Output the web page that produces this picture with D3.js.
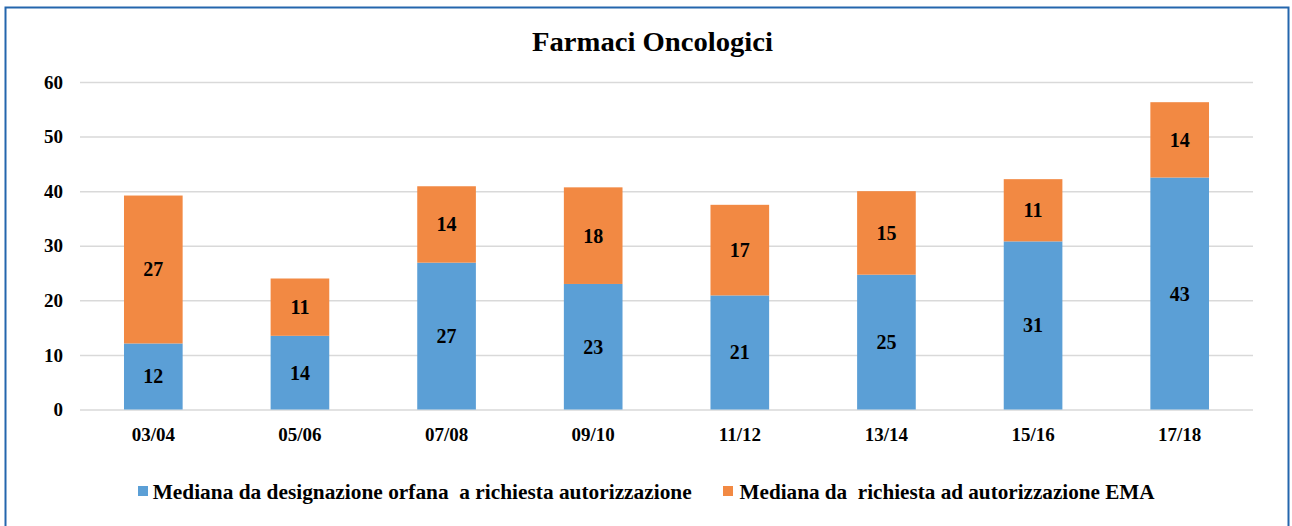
<!DOCTYPE html>
<html>
<head>
<meta charset="utf-8">
<script src="https://cdn.jsdelivr.net/npm/d3@7"></script>
<style>
  body { margin: 0; background: #fff; }
</style>
</head>
<body>
<div id="chart"></div>
<script>
// chart data
var periods = ["03/04", "05/06", "07/08", "09/10", "11/12", "13/14", "15/16", "17/18"];
var designazione = [12.1, 13.5, 26.9, 23.0, 20.9, 24.7, 30.8, 42.5];
var richiestaEma = [27.1, 10.5, 14.0, 17.7, 16.6, 15.3, 11.4, 13.8];
var yTicks = [0, 10, 20, 30, 40, 50, 60];
var seriesNames = ["Mediana da designazione orfana  a richiesta autorizzazione",
                   "Mediana da  richiesta ad autorizzazione EMA"];

var width = 1292, height = 526,
    margin = { top: 82, right: 39, bottom: 116.5, left: 80 },
    colors = ["#5b9fd6", "#f28943"],
    serif = "'Liberation Serif', 'DejaVu Serif', serif";

var svg = d3.select("#chart").append("svg")
    .attr("width", width)
    .attr("height", height);

// blue frame round the chart
svg.append("rect")
    .attr("x", 5.5).attr("y", 7.5)
    .attr("width", 1283).attr("height", 530)
    .attr("fill", "none")
    .attr("stroke", "#2466ad")
    .attr("stroke-width", 2);

svg.append("text")
    .attr("x", 652.5)
    .attr("y", 51)
    .attr("text-anchor", "middle")
    .attr("textLength", 241)
    .attr("lengthAdjust", "spacingAndGlyphs")
    .style("font-size", "27px")
    .text("Farmaci Oncologici");

var x = d3.scaleBand()
    .domain(periods)
    .range([margin.left, width - margin.right])
    .paddingInner(0.6)
    .paddingOuter(0.3);

var y = d3.scaleLinear()
    .domain([0, 60])
    .range([height - margin.bottom, margin.top]);

// y axis with gridlines
var yAxis = svg.append("g")
    .attr("transform", "translate(" + margin.left + ",0)")
    .call(d3.axisLeft(y).tickValues(yTicks)
        .tickSizeInner(-(width - margin.left - margin.right))
        .tickSizeOuter(0)
        .tickPadding(17));
yAxis.select(".domain").remove();
yAxis.selectAll("line").attr("stroke", "#d9d9d9").attr("stroke-width", 1.5);
yAxis.selectAll("text").style("font-size", "19px");

var stackData = periods.map(function(p, i) {
    return { period: p, a: designazione[i], b: richiestaEma[i] };
});
var stack = d3.stack().keys(["a", "b"])(stackData);

var layers = svg.selectAll("g.layer")
    .data(stack)
    .enter().append("g")
    .attr("class", "layer")
    .attr("fill", function(d, i) { return colors[i]; });

layers.selectAll("rect")
    .data(function(d) { return d; })
    .enter().append("rect")
    .attr("x", function(d) { return x(d.data.period); })
    .attr("y", function(d) { return y(d[1]); })
    .attr("width", x.bandwidth())
    .attr("height", function(d) { return y(d[0]) - y(d[1]); });

layers.selectAll("text")
    .data(function(d) { return d; })
    .enter().append("text")
    .attr("x", function(d) { return x(d.data.period) + x.bandwidth() / 2; })
    .attr("y", function(d) { return (y(d[0]) + y(d[1])) / 2; })
    .attr("dy", "0.35em")
    .attr("text-anchor", "middle")
    .style("font-size", "20px")
    .text(function(d) { return Math.round(d[1] - d[0]); });

// x axis labels
var xAxis = svg.append("g")
    .attr("transform", "translate(0," + y(0) + ")")
    .call(d3.axisBottom(x).tickSize(0));
xAxis.select(".domain").remove();
xAxis.selectAll("text")
    .attr("y", 31.5)
    .attr("dy", "0")
    .style("font-size", "19px");

// legend
var legendPos = [{ sx: 138, tx: 152.7, len: 539 }, { sx: 723, tx: 739.6, len: 415 }];
var legend = svg.selectAll("g.legend")
    .data(seriesNames)
    .enter().append("g")
    .attr("class", "legend");

legend.append("rect")
    .attr("x", function(d, i) { return legendPos[i].sx; })
    .attr("y", 486)
    .attr("width", 10)
    .attr("height", 10)
    .attr("fill", function(d, i) { return colors[i]; });

legend.append("text")
    .attr("x", function(d, i) { return legendPos[i].tx; })
    .attr("y", 499)
    .attr("textLength", function(d, i) { return legendPos[i].len; })
    .attr("lengthAdjust", "spacingAndGlyphs")
    .style("font-size", "21px")
    .style("white-space", "pre")
    .text(function(d) { return d; });

// every label in bold serif, set on the element so the axis font does not win
svg.selectAll("text")
    .style("font-family", serif)
    .style("font-weight", "bold")
    .attr("fill", "#000");
</script>
</body>
</html>
